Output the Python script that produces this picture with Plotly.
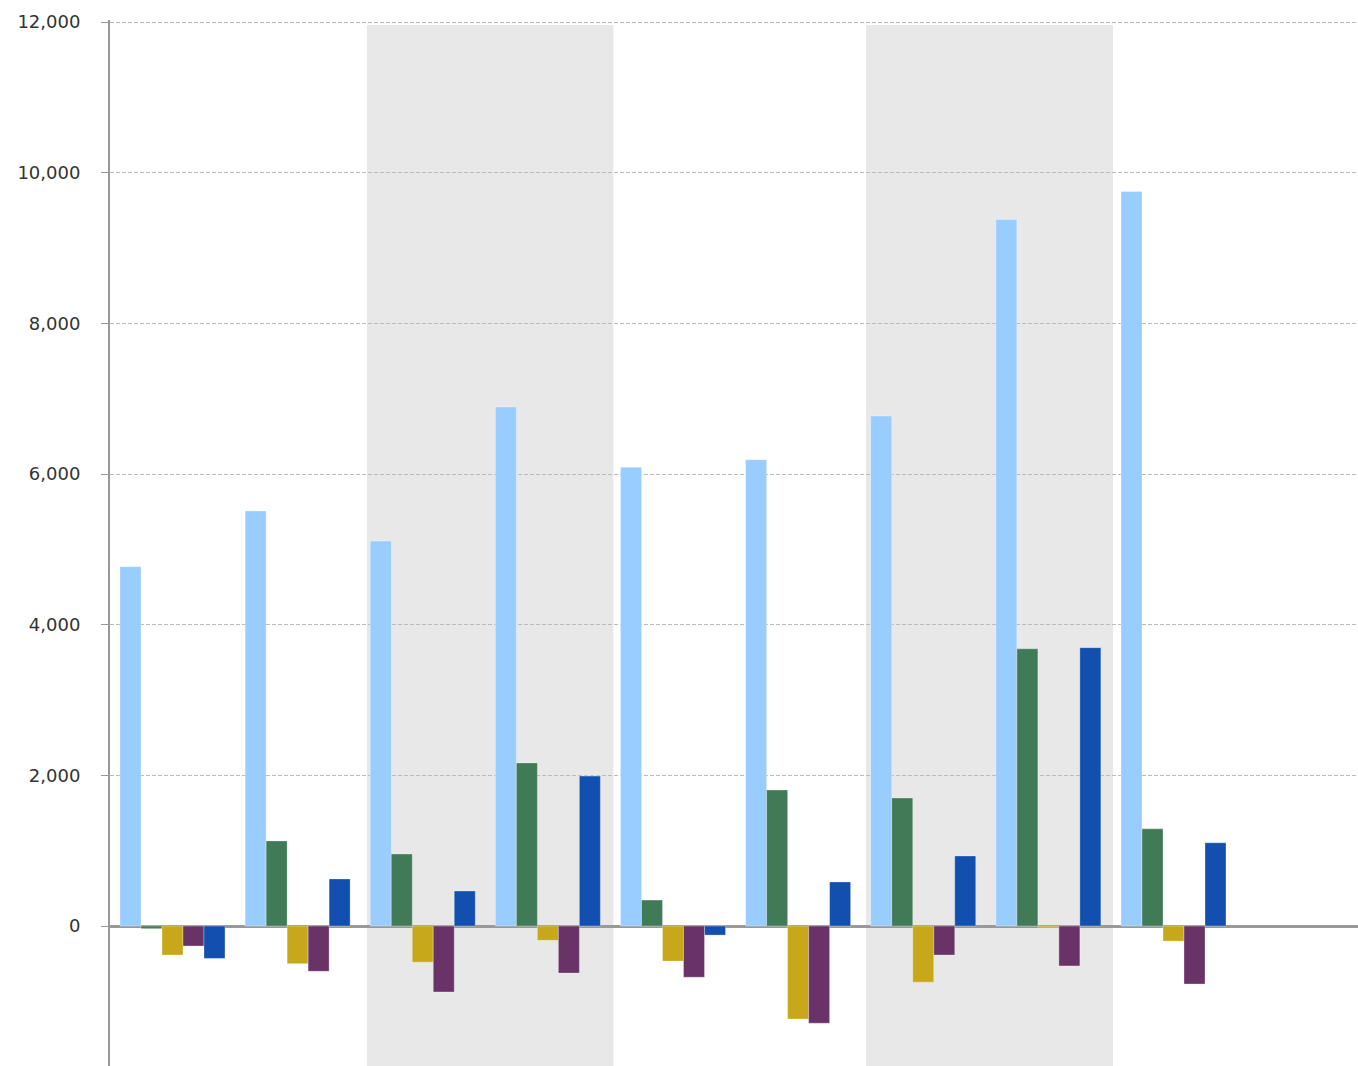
import plotly.graph_objects as go

categories = [0, 1, 2, 3, 4, 5, 6, 7, 8]
series_a = [4770, 5510, 5110, 6890, 6090, 6190, 6770, 9380, 9750]
series_b = [-35, 1130, 955, 2165, 345, 1805, 1700, 3680, 1290]
series_c = [-385, -500, -480, -190, -465, -1235, -745, -15, -200]
series_d = [-265, -600, -875, -625, -680, -1290, -385, -530, -770]
series_e = [-430, 625, 465, 1990, -120, 585, 930, 3695, 1105]

series = [series_a, series_b, series_c, series_d, series_e]
colors = ["#99ccff", "#417a56", "#c8a81b", "#6a3368", "#124fae"]

fig = go.Figure()
for vals, col in zip(series, colors):
    fig.add_trace(go.Bar(
        x=categories, y=vals,
        marker=dict(color=col, line=dict(color="rgba(255,255,255,0.3)", width=1)),
        showlegend=False,
    ))

for x0, x1 in [(1.554, 3.524), (5.542, 7.516)]:
    fig.add_shape(type="rect", xref="x", yref="y", x0=x0, x1=x1, y0=-1858, y1=11960,
                  fillcolor="#e8e8e8", line=dict(width=0), layer="below")

fig.update_layout(
    width=1358, height=1066,
    margin=dict(l=110, r=0, t=20, b=0),
    paper_bgcolor="white", plot_bgcolor="white",
    barmode="group", bargap=0.161, bargroupgap=0,
    font=dict(family="DejaVu Sans, Verdana, sans-serif", size=18, color="#333333"),
)
fig.update_xaxes(range=[-0.4995, 9.4745], showgrid=False, showticklabels=False, ticks="",
                 zeroline=False, showline=False)
fig.update_yaxes(range=[-1858, 12027], tickvals=[0, 2000, 4000, 6000, 8000, 10000, 12000],
                 tickformat=",d", showgrid=True, gridcolor="#bbbbbb", griddash="4px,2px", gridwidth=1,
                 zeroline=True, zerolinecolor="#999999", zerolinewidth=3,
                 showline=True, linecolor="#999999", linewidth=2,
                 ticks="outside", ticklen=7, tickcolor="#999999", tickwidth=1,
                 ticklabelstandoff=17)

fig.write_html("out.html", config={"displayModeBar": False},
               post_script="document.body.style.margin='0';document.body.style.overflow='hidden';")
